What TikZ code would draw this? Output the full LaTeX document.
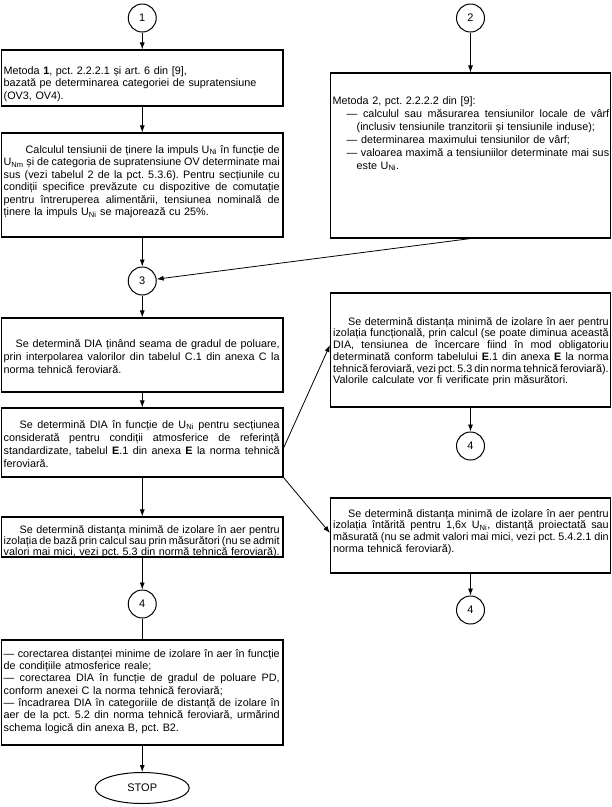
\documentclass[tikz,border=0pt]{standalone}
\usepackage{fontspec}
\setmainfont{Liberation Sans}
\usetikzlibrary{arrows.meta,shapes.geometric}
\newcommand\jl[1]{{\spaceskip=0.278em plus 0.6em minus 0.16em\makebox[\hsize][s]{#1}}}
\newcommand\st{\rule{0pt}{11pt}}
\tikzset{
  box/.style={draw, line width=1.1pt, inner sep=0pt},
  txt/.style={inner sep=0pt, anchor=north west, align=left, font=\fontsize{10.8pt}{#1}\selectfont\frenchspacing},
  conn/.style={circle, draw, line width=1pt, minimum size=28pt, inner sep=0pt, font=\fontsize{11pt}{13pt}\selectfont},
  arr/.style={line width=0.8pt, -{Latex[length=7pt,width=5pt]}},
  ln/.style={line width=0.8pt}
}
\begin{document}
\begin{tikzpicture}[x=1pt,y=-1pt]
\useasboundingbox (0,0) rectangle (612,807);
% connectors (circles)
\node[conn] (c1) at (142.25,18) {1};
\node[conn] (c2) at (470.5,18) {2};
\node[conn] (c3) at (142.25,281) {3};
\node[conn] (c4a) at (142.25,604) {4};
\node[conn] (c4b) at (470.5,446) {4};
\node[conn] (c4c) at (470.5,610) {4};
\node[ellipse, draw, line width=1pt, minimum width=94pt, minimum height=31pt, inner sep=0pt, font=\fontsize{11pt}{13pt}\selectfont] (stop) at (142.25,788) {STOP};
% boxes
\node[box, minimum width=281.5pt, minimum height=56pt] (b1) at (142.25,78) {};
\node[box, minimum width=281.5pt, minimum height=104pt] (b2) at (142.25,185) {};
\node[box, minimum width=280pt, minimum height=165pt] (m2) at (470.5,155.5) {};
\node[box, minimum width=281.5pt, minimum height=74pt] (b3) at (142.25,355) {};
\node[box, minimum width=281.5pt, minimum height=69pt] (b4) at (142.25,442.5) {};
\node[box, minimum width=281.5pt, minimum height=40pt] (b5) at (142.25,537) {};
\node[box, minimum width=281.5pt, minimum height=105pt] (b6) at (142.25,692.5) {};
\node[box, minimum width=280pt, minimum height=114pt] (r3) at (470.5,350) {};
\node[box, minimum width=280pt, minimum height=75pt] (r4) at (470.5,535.5) {};
% texts
\node[txt=12.7pt, text width=276pt] (t1) at (3.5,63) {\st Metoda \textbf{1}, pct. 2.2.2.1 și art. 6 din [9],\\
bazată pe determinarea categoriei de supratensiune\\
(OV3, OV4).};
\node[txt=12.5pt, text width=276pt] (t2) at (3.5,142) {\jl{\st\hspace*{22pt}Calculul tensiunii de ținere la impuls U\textsubscript{Ni} în funcție de}\\
\jl{U\textsubscript{Nm} și de categoria de supratensiune OV determinate mai}\\
\jl{sus (vezi tabelul 2 de la pct. 5.3.6). Pentru secțiunile cu}\\
\jl{condiții specifice prevăzute cu dispozitive de comutație}\\
\jl{pentru întreruperea alimentării, tensiunea nominală de}\\
ținere la impuls U\textsubscript{Ni} se majorează cu 25\%.};
\node[txt=13pt, text width=276.5pt] (tm2) at (332.5,93) {\st Metoda 2, pct. 2.2.2.2 din [9]:\\
\jl{\hspace*{14pt}— calculul sau măsurarea tensiunilor locale de vârf}\\
\hspace*{24pt}(inclusiv tensiunile tranzitorii și tensiunile induse);\\
\hspace*{14pt}— determinarea maximului tensiunilor de vârf;\\
\jl{\hspace*{14pt}— valoarea maximă a tensiuniilor determinate mai sus}\\
\hspace*{24pt}este U\textsubscript{Ni}.};
\node[txt=13pt, text width=276pt] (t3) at (3.5,336) {\jl{\st\hspace*{12pt}Se determină DIA ținând seama de gradul de poluare,}\\
\jl{prin interpolarea valorilor din tabelul C.1 din anexa C la}\\
norma tehnică feroviară.};
\node[txt=13pt, text width=276pt] (t4) at (3.5,417) {\jl{\st\hspace*{16pt}Se determină DIA în funcție de U\textsubscript{Ni} pentru secțiunea}\\
\jl{considerată pentru condiții atmosferice de referință}\\
\jl{standardizate, tabelul \textbf{E}.1 din anexa \textbf{E} la norma tehnică}\\
feroviară.};
\node[txt=11.3pt, text width=276pt] (t5) at (3.5,522) {\jl{\st\hspace*{16pt}Se determină distanța minimă de izolare în aer pentru}\\
\jl{izolația de bază prin calcul sau prin măsurători (nu se admit}\\
\jl{valori mai mici, vezi pct. 5.3 din normă tehnică feroviară).}};
\node[txt=11.7pt, text width=275.5pt] (tr3) at (333,314) {\jl{\st\hspace*{15pt}Se determină distanța minimă de izolare în aer pentru}\\
\jl{izolația funcțională, prin calcul (se poate diminua această}\\
\jl{DIA, tensiunea de încercare fiind în mod obligatoriu}\\
\jl{determinată conform tabelului \textbf{E}.1 din anexa \textbf{E} la norma}\\
\jl{tehnică feroviară, vezi pct. 5.3 din norma tehnică feroviară).}\\
Valorile calculate vor fi verificate prin măsurători.};
\node[txt=11.7pt, text width=275.5pt] (tr4) at (333,506) {\jl{\st\hspace*{15pt}Se determină distanța minimă de izolare în aer pentru}\\
\jl{izolația întărită pentru 1,6x U\textsubscript{Ni}, distanță proiectată sau}\\
\jl{măsurată (nu se admit valori mai mici, vezi pct. 5.4.2.1 din}\\
norma tehnică feroviară).};
\node[txt=12.3pt, text width=276pt] (t6) at (3.5,646) {\jl{\st — corectarea distanței minime de izolare în aer în funcție}\\
de condițiile atmosferice reale;\\
\jl{— corectarea DIA în funcție de gradul de poluare PD,}\\
conform anexei C la norma tehnică feroviară;\\
\jl{— încadrarea DIA în categoriile de distanță de izolare în}\\
\jl{aer de la pct. 5.2 din norma tehnică feroviară, urmărind}\\
schema logică din anexa B, pct. B2.};
% arrows
\draw[arr] (c1) -- (b1);
\draw[arr] (b1) -- (b2);
\draw[arr] (b2) -- (c3);
\draw[arr] (c2) -- (m2);
\draw[arr] (m2.south) -- (c3);
\draw[arr] (c3) -- (b3);
\draw[arr] (b3) -- (b4);
\draw[arr] (b4) -- (b5);
\draw[arr] (b5) -- (c4a);
\draw[ln] (c4a) -- (b6);
\draw[arr] (b6) -- (stop);
\draw[arr] ([yshift=-5.5pt]b4.east) -- ([yshift=5pt]r3.west);
\draw[arr] (b4.south east) -- ([yshift=2.5pt]r4.west);
\draw[arr] (r3) -- (c4b);
\draw[arr] (r4) -- (c4c);
\end{tikzpicture}
\end{document}
